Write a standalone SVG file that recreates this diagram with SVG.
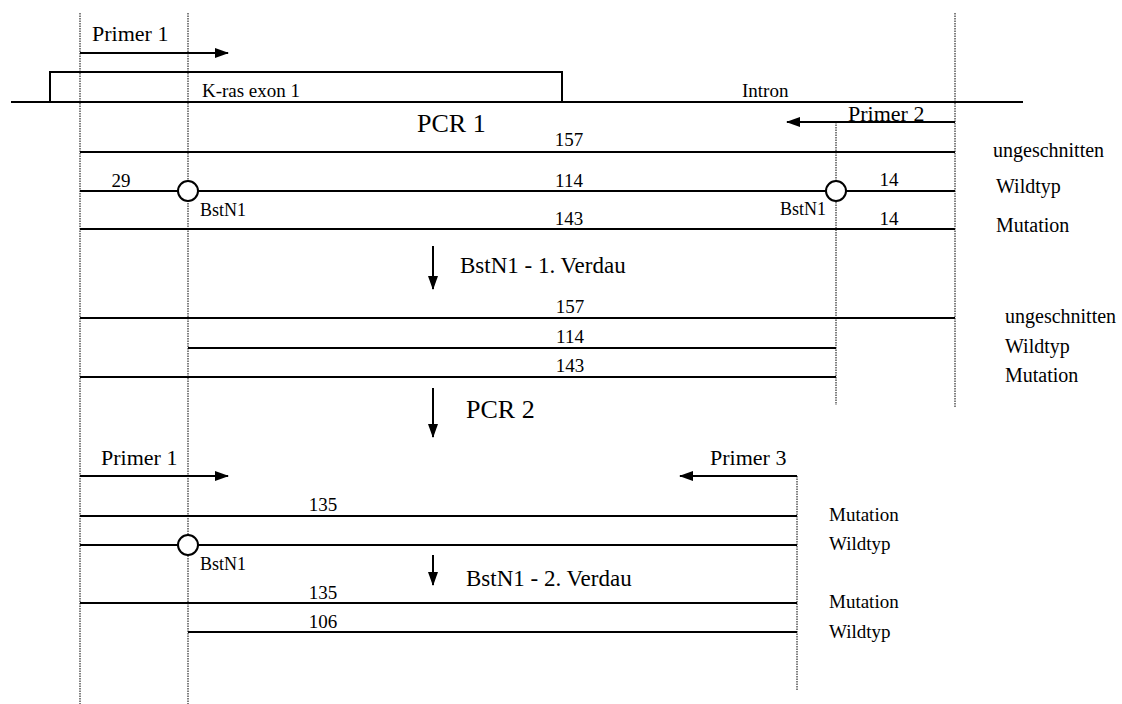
<svg xmlns="http://www.w3.org/2000/svg" width="1122" height="704" viewBox="0 0 1122 704">
<style>
text{font-family:'Liberation Serif','DejaVu Serif','Times New Roman',serif;fill:#000}
.s{font-size:18px}
.n{font-size:19px}
.r{font-size:20px}
.p{font-size:22px}
.b{font-size:26px}
.v{font-size:23px}
.frag{stroke:#000;stroke-width:2;fill:none}
.guide{stroke:#000;stroke-width:1;stroke-dasharray:1.5 1;fill:none}
.site{fill:#fff;stroke:#000;stroke-width:2}
.arr{stroke:#000;stroke-width:2;fill:none}
.mid{text-anchor:middle}
</style>
<defs>
<marker id="ah" viewBox="0 0 14 10" refX="13" refY="5" markerWidth="14" markerHeight="10" markerUnits="userSpaceOnUse" orient="auto">
<path d="M0,0 L14,5 L0,10 Z" fill="#000"/>
</marker>
</defs>
<rect width="1122" height="704" fill="#fff"/>

<g id="guides">
<line class="guide" x1="80" y1="13" x2="80" y2="704"/>
<line class="guide" x1="188" y1="13" x2="188" y2="704"/>
<line class="guide" x1="955" y1="13" x2="955" y2="408"/>
<line class="guide" x1="836" y1="122" x2="836" y2="405"/>
<line class="guide" x1="797" y1="476" x2="797" y2="690"/>
</g>

<g id="genome">
<line class="frag" x1="11" y1="102" x2="1023" y2="102"/>
<path class="frag" d="M50,102 V72 H562 V102"/>
<text class="n mid" x="251" y="97">K-ras exon 1</text>
<text class="n" x="742" y="97">Intron</text>
</g>

<g id="connectors">
<line class="arr" x1="80" y1="53" x2="228" y2="53" marker-end="url(#ah)"/>
<line class="arr" x1="955" y1="122" x2="787" y2="122" marker-end="url(#ah)"/>
<line class="arr" x1="433" y1="246" x2="433" y2="289" marker-end="url(#ah)"/>
<line class="arr" x1="433" y1="388" x2="433" y2="437" marker-end="url(#ah)"/>
<line class="arr" x1="80" y1="476" x2="228" y2="476" marker-end="url(#ah)"/>
<line class="arr" x1="797" y1="476" x2="680" y2="476" marker-end="url(#ah)"/>
<line class="arr" x1="433" y1="555" x2="433" y2="585" marker-end="url(#ah)"/>
</g>

<g id="primer1"><text class="p" x="92" y="41">Primer 1</text></g>
<g id="primer2"><text class="p" x="848" y="121">Primer 2</text></g>
<g id="pcr1"><text class="b" x="417" y="132">PCR 1</text></g>

<g id="pcr1-uncut">
<line class="frag" x1="80" y1="152" x2="955" y2="152"/>
<text class="n mid" x="569" y="146">157</text>
<text class="r" x="993" y="157">ungeschnitten</text>
</g>
<g id="pcr1-wt">
<line class="frag" x1="80" y1="191" x2="955" y2="191"/>
<circle class="site" cx="188" cy="191" r="10"/>
<circle class="site" cx="836" cy="191" r="10"/>
<text class="n mid" x="121" y="187">29</text>
<text class="n mid" x="569" y="187">114</text>
<text class="n mid" x="889" y="186">14</text>
<text class="s" x="200" y="216">BstN1</text>
<text class="s" x="780" y="215">BstN1</text>
<text class="r" x="996" y="193">Wildtyp</text>
</g>
<g id="pcr1-mut">
<line class="frag" x1="80" y1="229" x2="955" y2="229"/>
<text class="n mid" x="569" y="225">143</text>
<text class="n mid" x="889" y="225">14</text>
<text class="r" x="996" y="232">Mutation</text>
</g>

<g id="digest1"><text class="v" x="460" y="273">BstN1 - 1. Verdau</text></g>

<g id="d1-uncut">
<line class="frag" x1="80" y1="318" x2="955" y2="318"/>
<text class="n mid" x="570" y="313">157</text>
<text class="r" x="1005" y="323">ungeschnitten</text>
</g>
<g id="d1-wt">
<line class="frag" x1="188" y1="348" x2="836" y2="348"/>
<text class="n mid" x="570" y="343">114</text>
<text class="r" x="1005" y="353">Wildtyp</text>
</g>
<g id="d1-mut">
<line class="frag" x1="80" y1="377" x2="836" y2="377"/>
<text class="n mid" x="570" y="372">143</text>
<text class="r" x="1005" y="382">Mutation</text>
</g>

<g id="pcr2"><text class="b" x="466" y="418">PCR 2</text></g>

<g id="primer1b"><text class="p" x="101" y="465">Primer 1</text></g>
<g id="primer3"><text class="p" x="710" y="465">Primer 3</text></g>

<g id="pcr2-mut">
<line class="frag" x1="80" y1="516" x2="797" y2="516"/>
<text class="n mid" x="323" y="511">135</text>
<text class="n" x="829" y="521">Mutation</text>
</g>
<g id="pcr2-wt">
<line class="frag" x1="80" y1="545" x2="797" y2="545"/>
<circle class="site" cx="188" cy="545" r="10"/>
<text class="s" x="200" y="570">BstN1</text>
<text class="n" x="829" y="550">Wildtyp</text>
</g>

<g id="digest2"><text class="v" x="466" y="586">BstN1 - 2. Verdau</text></g>

<g id="d2-mut">
<line class="frag" x1="80" y1="603" x2="797" y2="603"/>
<text class="n mid" x="323" y="599">135</text>
<text class="n" x="829" y="608">Mutation</text>
</g>
<g id="d2-wt">
<line class="frag" x1="188" y1="632" x2="797" y2="632"/>
<text class="n mid" x="323" y="628">106</text>
<text class="n" x="829" y="638">Wildtyp</text>
</g>
</svg>
